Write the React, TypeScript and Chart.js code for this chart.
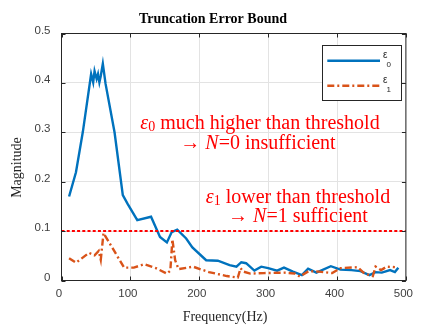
import React, { useEffect, useRef } from "react";
import { Chart, registerables } from "chart.js";

Chart.register(...registerables);

// ---- data ----
const eps0Freq = [11, 21, 31, 43, 46, 48, 51, 53, 55, 57, 60, 64, 77, 89, 96, 110, 130, 143, 153, 160, 168, 181, 190, 210, 227, 244, 254, 261, 268, 280, 290, 300, 313, 323, 336, 349, 358, 370, 391, 405, 421, 434, 447, 456, 465, 477, 484, 489];
const eps0Vals = [0.170, 0.219, 0.301, 0.418, 0.401, 0.424, 0.408, 0.418, 0.401, 0.414, 0.439, 0.398, 0.300, 0.173, 0.155, 0.122, 0.129, 0.088, 0.077, 0.098, 0.103, 0.085, 0.067, 0.041, 0.040, 0.031, 0.028, 0.037, 0.035, 0.020, 0.028, 0.025, 0.020, 0.026, 0.018, 0.011, 0.024, 0.016, 0.029, 0.022, 0.021, 0.019, 0.011, 0.017, 0.016, 0.021, 0.017, 0.026];

const eps1Freq = [11, 21, 40, 48, 54, 57, 61, 91, 105, 120, 137, 153, 158, 161, 165, 170, 191, 214, 240, 256, 260, 264, 274, 294, 323, 339, 346, 359, 374, 393, 405, 430, 440, 452, 456, 464, 472, 484];
const eps1Vals = [0.045, 0.036, 0.056, 0.051, 0.060, 0.042, 0.096, 0.026, 0.026, 0.033, 0.025, 0.014, 0.020, 0.083, 0.041, 0.023, 0.028, 0.017, 0.009, 0.006, 0.025, 0.018, 0.014, 0.015, 0.016, 0.014, 0.008, 0.019, 0.018, 0.015, 0.025, 0.027, 0.014, 0.009, 0.028, 0.021, 0.028, 0.027];

const thresholdFreq = [0, 500];
const thresholdValue = 0.1;

const xTicks = [0, 100, 200, 300, 400, 500];
const yTicks = [0, 0.1, 0.2, 0.3, 0.4, 0.5];

const titleText = "Truncation Error Bound";
const xLabelText = "Frequency(Hz)";
const yLabelText = "Magnitude";
const legendSymbol = "ε";
const legendSubs = ["0", "1"];
const note0 = { sym: "ε", sub: "0", rest: " much higher than threshold", arrow: "→ ", n: "N", tail: "=0 insufficient" };
const note1 = { sym: "ε", sub: "1", rest: " lower than threshold", arrow: "→ ", n: "N", tail: "=1 sufficient" };

// ---- styles ----
const BLUE = "#0072BD";
const ORANGE = "#D95319";
const RED = "#ff0000";
const AXIS = "#262626";
const SERIF = '"Liberation Serif", "Times New Roman", serif';
const SANS = '"Liberation Sans", Arial, sans-serif';

type Seg = { text: string; font: string; dy?: number };

function drawRich(ctx: CanvasRenderingContext2D, segs: Seg[], cx: number, baseline: number) {
  let total = 0;
  segs.forEach((s) => {
    ctx.font = s.font;
    total += ctx.measureText(s.text).width;
  });
  let xp = cx - total / 2;
  segs.forEach((s) => {
    ctx.font = s.font;
    ctx.fillText(s.text, xp, baseline + (s.dy || 0));
    xp += ctx.measureText(s.text).width;
  });
}

const extrasPlugin = {
  id: "extras",
  afterDraw(chart: any) {
    const { ctx, chartArea } = chart;
    const { left, right, top, bottom } = chartArea;
    const xs = chart.scales.x;
    const ys = chart.scales.y;
    ctx.save();

    // axes box
    ctx.strokeStyle = AXIS;
    ctx.lineWidth = 1;
    ctx.setLineDash([]);
    ctx.strokeRect(left, top, right - left, bottom - top);

    // inward tick marks
    ctx.beginPath();
    xTicks.forEach((v) => {
      const px = Math.round(xs.getPixelForValue(v)) + 0.5;
      ctx.moveTo(px, bottom);
      ctx.lineTo(px, bottom - 4);
      ctx.moveTo(px, top);
      ctx.lineTo(px, top + 4);
    });
    yTicks.forEach((v) => {
      const py = Math.round(ys.getPixelForValue(v)) + 0.5;
      ctx.moveTo(left, py);
      ctx.lineTo(left + 4, py);
      ctx.moveTo(right, py);
      ctx.lineTo(right - 4, py);
    });
    ctx.stroke();

    // title and axis labels
    ctx.fillStyle = "#000";
    ctx.textBaseline = "alphabetic";
    ctx.textAlign = "center";
    ctx.font = `bold 14px ${SERIF}`;
    ctx.fillText(titleText, 213, 22.5);
    ctx.fillStyle = AXIS;
    ctx.font = `14px ${SERIF}`;
    ctx.fillText(xLabelText, 225, 321);
    ctx.save();
    ctx.translate(21, 167.5);
    ctx.rotate(-Math.PI / 2);
    ctx.fillText(yLabelText, 0, 0);
    ctx.restore();

    // annotations
    ctx.textAlign = "left";
    ctx.fillStyle = RED;
    const big = `20px ${SERIF}`;
    const bigI = `italic 20px ${SERIF}`;
    const small = `14px ${SERIF}`;
    drawRich(ctx, [
      { text: note0.sym, font: bigI },
      { text: note0.sub, font: small, dy: 2 },
      { text: note0.rest, font: big },
    ], 260, 128.5);
    drawRich(ctx, [
      { text: note0.arrow, font: big },
      { text: note0.n, font: bigI },
      { text: note0.tail, font: big },
    ], 258, 148.5);
    drawRich(ctx, [
      { text: note1.sym, font: bigI },
      { text: note1.sub, font: small, dy: 2 },
      { text: note1.rest, font: big },
    ], 298, 202.5);
    drawRich(ctx, [
      { text: note1.arrow, font: big },
      { text: note1.n, font: bigI },
      { text: note1.tail, font: big },
    ], 298, 222);

    // legend
    const lx = 322.5, ly = 45.5, lw = 79, lh = 55;
    ctx.fillStyle = "#fff";
    ctx.fillRect(lx, ly, lw, lh);
    ctx.strokeStyle = AXIS;
    ctx.lineWidth = 1;
    ctx.setLineDash([]);
    ctx.strokeRect(lx, ly, lw, lh);
    const ds = chart.data.datasets;
    const entries = [ds[2], ds[1]];
    const rowsY = [60.7, 85.7];
    entries.forEach((d: any, i: number) => {
      ctx.beginPath();
      ctx.strokeStyle = d.borderColor;
      ctx.lineWidth = d.borderWidth;
      ctx.setLineDash(d.borderDash || []);
      ctx.moveTo(327.3, rowsY[i]);
      ctx.lineTo(380, rowsY[i]);
      ctx.stroke();
      ctx.setLineDash([]);
      ctx.fillStyle = AXIS;
      ctx.font = `10px ${SANS}`;
      ctx.fillText(legendSymbol, 383, rowsY[i] - 2.4);
      ctx.font = `8px ${SANS}`;
      ctx.fillText(legendSubs[i], 386.5, rowsY[i] + 6.6);
    });

    ctx.restore();
  },
};

export default function App() {
  const canvasRef = useRef<HTMLCanvasElement | null>(null);

  useEffect(() => {
    if (!canvasRef.current) return;
    const chart = new Chart(canvasRef.current, {
      type: "line",
      data: {
        datasets: [
          {
            label: "threshold",
            data: thresholdFreq.map((x) => ({ x, y: thresholdValue })),
            borderColor: RED,
            borderWidth: 2,
            borderDash: [3, 2.2],
            pointRadius: 0,
            fill: false,
          },
          {
            label: "ε1",
            data: eps1Freq.map((x, i) => ({ x, y: eps1Vals[i] })),
            borderColor: ORANGE,
            borderWidth: 2.4,
            borderDash: [7, 3, 2, 3],
            pointRadius: 0,
            fill: false,
          },
          {
            label: "ε0",
            data: eps0Freq.map((x, i) => ({ x, y: eps0Vals[i] })),
            borderColor: BLUE,
            borderWidth: 2.4,
            pointRadius: 0,
            fill: false,
          },
        ],
      },
      options: {
        animation: false,
        responsive: false,
        maintainAspectRatio: false,
        layout: { padding: { left: 0, right: 6.5, top: 33.5, bottom: 0 } },
        plugins: {
          legend: { display: false },
          title: { display: false },
          tooltip: { enabled: false },
        },
        scales: {
          x: {
            type: "linear",
            min: 0,
            max: 500,
            afterBuildTicks: (s: any) => {
              s.ticks = xTicks.map((v) => ({ value: v }));
            },
            afterFit: (s: any) => {
              s.height = 45.5;
            },
            ticks: {
              autoSkip: false,
              maxRotation: 0,
              padding: 6.5,
              labelOffset: -2.5,
              color: "#404040",
              font: { family: SANS, size: 11.5 },
            },
            grid: { color: "#e3e3e3", drawTicks: false, lineWidth: 1 },
            border: { display: false },
          },
          y: {
            type: "linear",
            min: 0,
            max: 0.5,
            afterBuildTicks: (s: any) => {
              s.ticks = yTicks.map((v) => ({ value: v }));
            },
            afterFit: (s: any) => {
              s.width = 61.5;
            },
            ticks: {
              padding: 11,
              labelOffset: -3,
              color: "#404040",
              font: { family: SANS, size: 11.5 },
              callback: (v: any) => String(Math.round(Number(v) * 10) / 10),
            },
            grid: { color: "#e3e3e3", drawTicks: false, lineWidth: 1 },
            border: { display: false },
          },
        },
      },
      plugins: [extrasPlugin],
    } as any);
    return () => chart.destroy();
  }, []);

  return (
    <div style={{ position: "absolute", left: 0, top: 0, width: 422, height: 326, background: "#fff" }}>
      <canvas ref={canvasRef} width={422} height={326} style={{ display: "block" }} />
    </div>
  );
}
